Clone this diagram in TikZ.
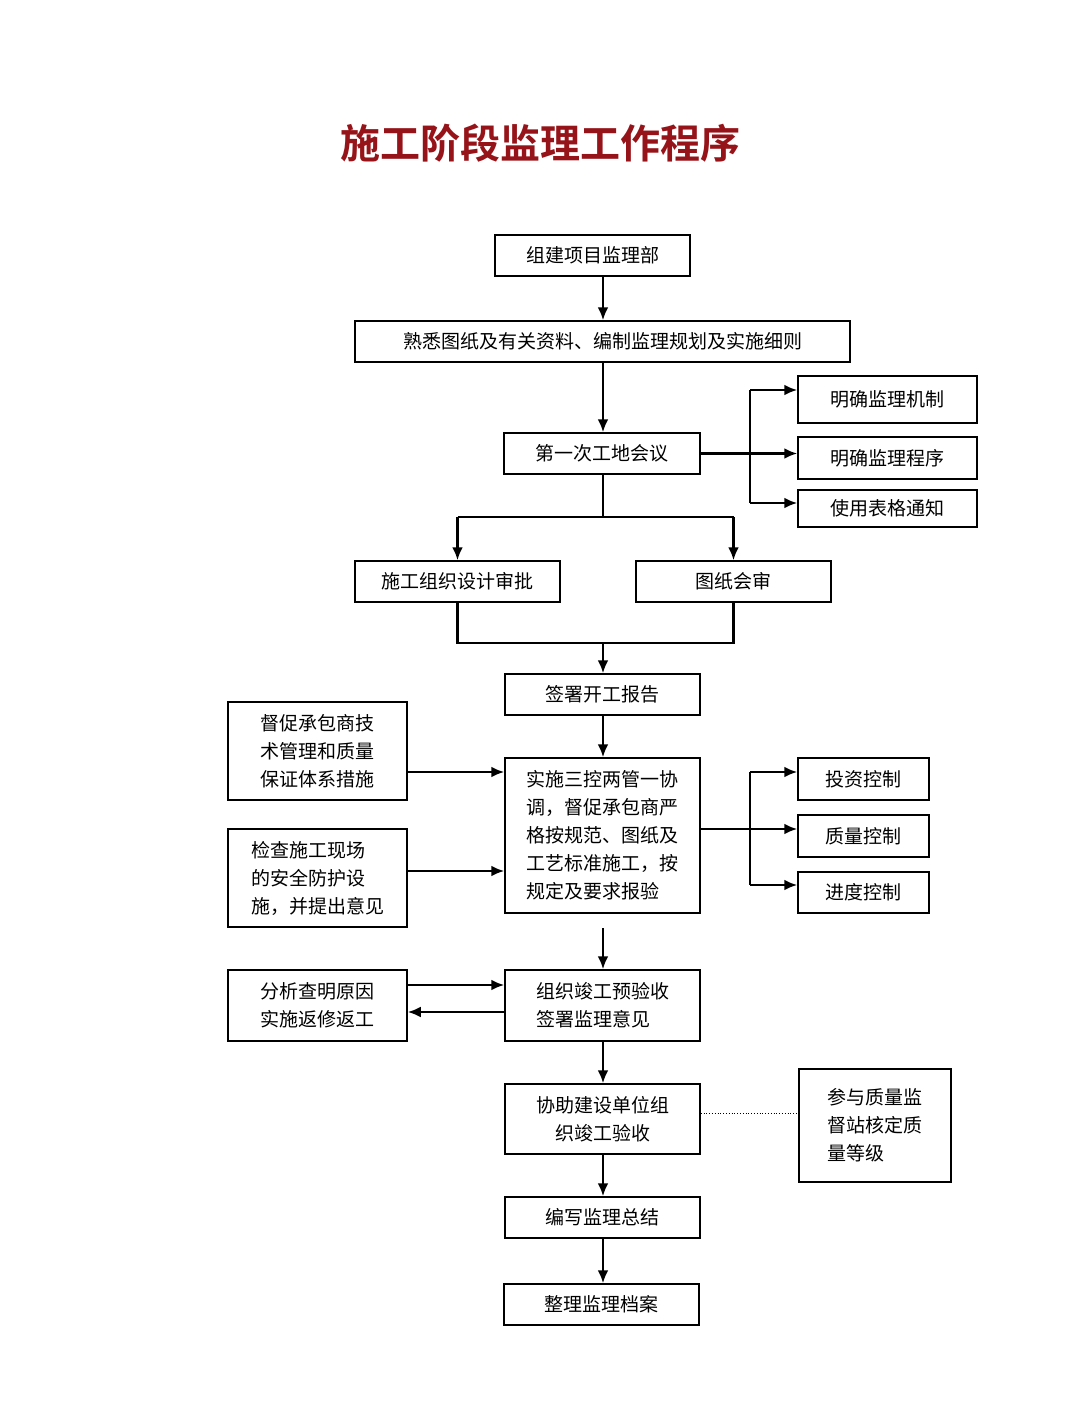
\documentclass[tikz,border=0pt]{standalone}
\usepackage{fontspec}
\setmainfont{Noto Sans CJK SC}
\newfontfamily\titlefont{Noto Sans CJK SC Bold}
\usetikzlibrary{arrows.meta}
\definecolor{titlered}{RGB}{150,20,25}
\tikzset{
  box/.style={draw, line width=1.5pt, inner sep=2pt, font=\fontsize{19}{28}\selectfont},
  flow/.style={line width=2.4pt, -{Latex[length=13pt,width=11pt]}},
  link/.style={line width=2.2pt}
}
\begin{document}
\begin{tikzpicture}[x=1pt,y=-1pt]
    \useasboundingbox (0,0) rectangle (1080,1428);

    % Title
    \node[font=\titlefont\fontsize{40}{44}\selectfont, text=titlered] (title) at (540,143) {施工阶段监理工作程序};

    % Main column
    \node[box, minimum width=195pt, minimum height=41pt] (b1) at (592.5,255.5) {组建项目监理部};
    \node[box, minimum width=495pt, minimum height=41pt] (b2) at (602.5,341.5) {熟悉图纸及有关资料、编制监理规划及实施细则};
    \node[box, minimum width=196pt, minimum height=41pt] (b3) at (602,453.5) {第一次工地会议};
    \node[box, minimum width=205pt, minimum height=41pt] (b4) at (457.5,581.5) {施工组织设计审批};
    \node[box, minimum width=195pt, minimum height=41pt] (b5) at (733.5,581.5) {图纸会审};
    \node[box, minimum width=195pt, minimum height=41pt] (b6) at (602.5,694.5) {签署开工报告};
    \node[box, minimum width=195pt, minimum height=155pt, align=left] (b7) at (602.5,835.5)
      {实施三控两管一协\\调，督促承包商严\\格按规范、图纸及\\工艺标准施工，按\\规定及要求报验};
    \node[box, minimum width=195pt, minimum height=71pt, align=left] (b8) at (602.5,1005.5) {组织竣工预验收\\签署监理意见};
    \node[box, minimum width=195pt, minimum height=70pt, align=center] (b9) at (602.5,1119) {协助建设单位组\\织竣工验收};
    \node[box, minimum width=195pt, minimum height=41pt] (b10) at (602.5,1217.5) {编写监理总结};
    \node[box, minimum width=195pt, minimum height=41pt] (b11) at (601.5,1304.5) {整理监理档案};

    % Right column
    \node[box, minimum width=179pt, minimum height=47pt] (r1) at (887.5,399.5) {明确监理机制};
    \node[box, minimum width=179pt, minimum height=42pt] (r2) at (887.5,458) {明确监理程序};
    \node[box, minimum width=179pt, minimum height=37pt] (r3) at (887.5,508.5) {使用表格通知};
    \node[box, minimum width=131pt, minimum height=42pt] (r4) at (863.5,779) {投资控制};
    \node[box, minimum width=131pt, minimum height=42pt] (r5) at (863.5,836) {质量控制};
    \node[box, minimum width=131pt, minimum height=41pt] (r6) at (863.5,892.5) {进度控制};
    \node[box, minimum width=152pt, minimum height=113pt, align=left] (r7) at (875,1125.5) {参与质量监\\督站核定质\\量等级};

    % Left column
    \node[box, minimum width=179pt, minimum height=98pt, align=left] (l1) at (317.5,751) {督促承包商技\\术管理和质量\\保证体系措施};
    \node[box, minimum width=179pt, minimum height=98pt, align=left] (l2) at (317.5,878) {检查施工现场\\的安全防护设\\施，并提出意见};
    \node[box, minimum width=179pt, minimum height=71pt, align=left] (l3) at (317.5,1005.5) {分析查明原因\\实施返修返工};

    % Helper points
    \coordinate (s1) at (750,390);
    \coordinate (s2) at (750,503);
    \coordinate (m1) at (603,517);
    \coordinate (m2) at (603,643);
    \coordinate (s3) at (750,772);
    \coordinate (s4) at (750,885);
    \coordinate (g1) at (603,928);

    % Main flow
    \draw[flow] (b1.south -| m1) -- (b2.north -| m1);
    \draw[flow] (b2.south -| m1) -- (b3.north -| m1);
    \draw[flow] (b3.east) -- (r2.west |- b3.east);
    \draw[link] (s1) -- (s2);
    \draw[flow] (s1) -- (r1.west |- s1);
    \draw[flow] (s2) -- (r3.west |- s2);
    \draw[link] (b3.south -| m1) -- (m1);
    \draw[link] (m1 -| b4) -- (m1 -| b5);
    \draw[flow] (m1 -| b4) -- (b4.north);
    \draw[flow] (m1 -| b5) -- (b5.north);
    \draw[link] (b4.south) |- (m2) -| (b5.south);
    \draw[flow] (m2) -- (b6.north -| m2);
    \draw[flow] (b6.south -| m1) -- (b7.north -| m1);
    \draw[flow] (l1.east |- 0,772) -- (b7.west |- 0,772);
    \draw[flow] (l2.east |- 0,871) -- (b7.west |- 0,871);
    \draw[link] (b7.east |- 0,829) -- (750,829);
    \draw[link] (s3) -- (s4);
    \draw[flow] (s3) -- (r4.west |- s3);
    \draw[flow] (750,829) -- (r5.west |- 0,829);
    \draw[flow] (s4) -- (r6.west |- s4);
    \draw[flow] (g1) -- (b8.north -| g1);
    \draw[flow] (l3.east |- 0,985) -- (b8.west |- 0,985);
    \draw[flow] (b8.west |- 0,1012) -- (l3.east |- 0,1012);
    \draw[flow] (b8.south -| m1) -- (b9.north -| m1);
    \draw[dotted, line width=0.8pt] (b9.east |- 0,1113) -- (r7.west |- 0,1113);
    \draw[flow] (b9.south -| m1) -- (b10.north -| m1);
    \draw[flow] (b10.south -| m1) -- (b11.north -| m1);
\end{tikzpicture}
\end{document}
